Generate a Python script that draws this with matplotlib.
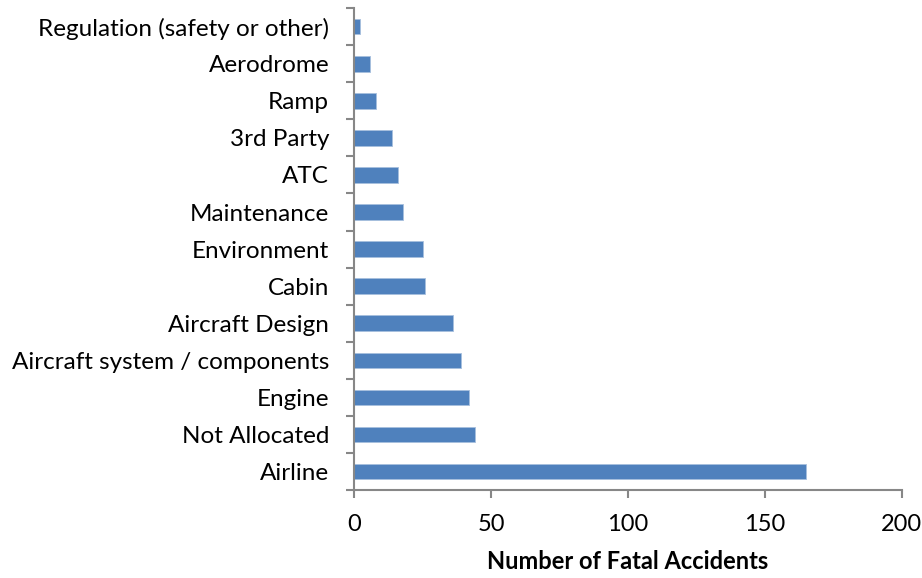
import numpy as np
import matplotlib.pyplot as plt

# datos (de abajo hacia arriba)
categorias = ['Airline', 'Not Allocated', 'Engine', 'Aircraft system / components',
              'Aircraft Design', 'Cabin', 'Environment', 'Maintenance', 'ATC',
              '3rd Party', 'Ramp', 'Aerodrome', 'Regulation (safety or other)']
accidentes = [165, 44, 42, 39, 36, 26, 25, 18, 16, 14, 8, 6, 2]
ticks_x = [0, 50, 100, 150, 200]

plt.rcParams['font.family'] = ['Lato', 'DejaVu Sans']

fig = plt.figure(figsize=(9.22, 5.78), dpi=100)
ax = fig.add_axes([0.384, 0.152, 0.594, 0.834])

y = np.arange(len(categorias))
ax.barh(y, accidentes, height=0.42, color='#4F81BD', edgecolor='#A7BFDE', linewidth=0.6)

ax.set_xlim(0, 200)
ax.set_ylim(-0.5, len(categorias) - 0.5)
ax.set_xticks(ticks_x)
ax.set_xticklabels([str(t) for t in ticks_x], fontsize=17)
ax.set_yticks(y)
ax.set_yticklabels(categorias, fontsize=17.5)
ax.set_yticks(np.arange(-0.5, len(categorias)), minor=True)

gris = '#878787'
for lado in ['top', 'right']:
    ax.spines[lado].set_visible(False)
for lado in ['left', 'bottom']:
    ax.spines[lado].set_color(gris)
    ax.spines[lado].set_linewidth(1.5)

ax.tick_params(axis='y', which='major', length=0, pad=18)
ax.tick_params(axis='y', which='minor', length=6, width=1.5, color=gris)
ax.tick_params(axis='x', length=6, width=1.5, color=gris, pad=11)

ax.set_xlabel('Number of Fatal Accidents', fontsize=17, fontweight='bold', labelpad=11)

plt.savefig('out.png', dpi=100)
